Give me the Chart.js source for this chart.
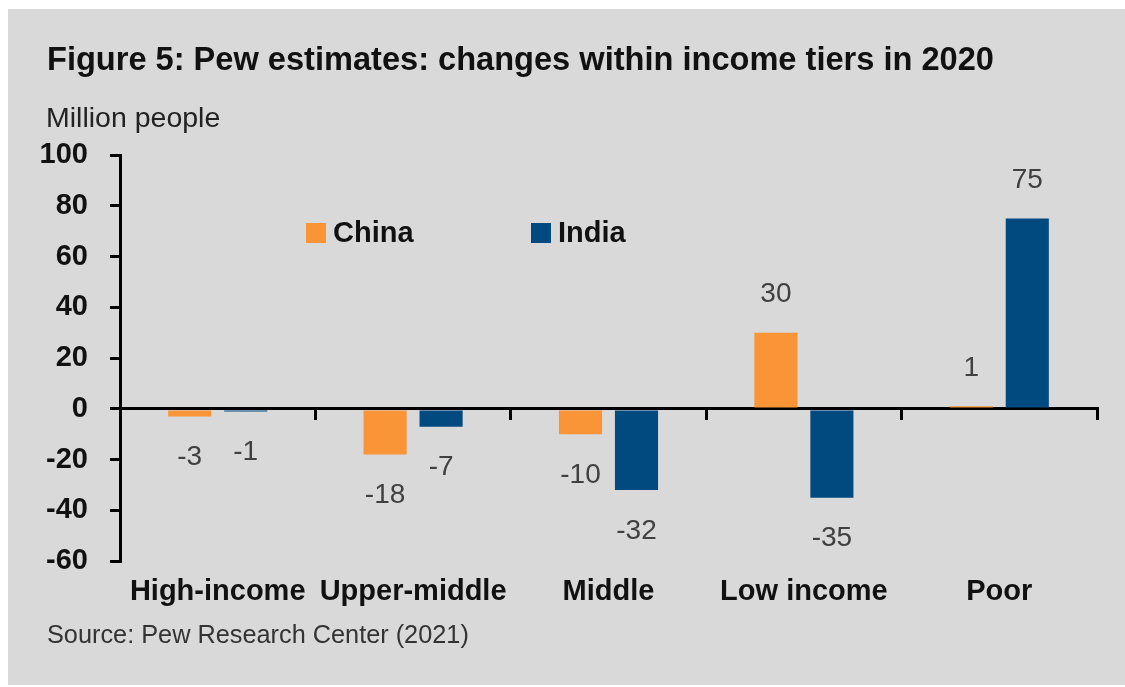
<!DOCTYPE html>
<html lang="en">
<head>
<meta charset="UTF-8" />
<title>Pew estimates: changes within income tiers in 2020</title>
<script src="https://cdn.jsdelivr.net/npm/chart.js"></script>
<style>
  body { margin: 0; background: #fff; }
  #wrap { width: 1125px; height: 687px; }
</style>
</head>
<body>
<div id="wrap"><canvas id="tiersChart"></canvas></div>
<script>
// data (million people)
const tiers = ['High-income', 'Upper-middle', 'Middle', 'Low income', 'Poor']
const chinaChange = [-3, -18, -10, 30, 1]
const indiaChange = [-1, -7, -32, -35, 75]
const yMin = -60
const yMax = 100
const yStep = 20

const FONT = '"Liberation Sans", Arial, sans-serif'
const ORANGE = '#F99437'
const BLUE = '#004A80'

// grey panel, title, unit and source line
const panel = {
  id: 'panel',
  beforeDraw(chart) {
    const ctx = chart.ctx
    ctx.save()
    ctx.fillStyle = '#ffffff'
    ctx.fillRect(0, 0, chart.width, chart.height)
    ctx.fillStyle = '#D9D9D9'
    ctx.fillRect(8, 9, chart.width - 8, chart.height - 11)
    ctx.textAlign = 'left'
    ctx.textBaseline = 'middle'
    ctx.fillStyle = '#111111'
    ctx.font = 'bold 32.6px ' + FONT
    ctx.fillText('Figure 5: Pew estimates: changes within income tiers in 2020', 47, 61)
    ctx.fillStyle = '#222222'
    ctx.font = '28.5px ' + FONT
    ctx.fillText('Million people', 46, 119)
    ctx.fillStyle = '#333333'
    ctx.font = '25.3px ' + FONT
    ctx.fillText('Source: Pew Research Center (2021)', 47, 636)
    ctx.restore()
  }
}

// legend sits inside the plot
const insideLegend = {
  id: 'insideLegend',
  afterDraw(chart) {
    const ctx = chart.ctx
    const y = chart.chartArea.top + 78
    const xs = [306, 531]
    ctx.save()
    ctx.font = 'bold 29px ' + FONT
    ctx.textAlign = 'left'
    ctx.textBaseline = 'middle'
    chart.data.datasets.forEach((ds, i) => {
      ctx.fillStyle = ds.backgroundColor
      ctx.fillRect(xs[i], y - 10, 20, 20)
      ctx.fillStyle = '#111111'
      ctx.fillText(ds.label, xs[i] + 27, y + 1)
    })
    ctx.restore()
  }
}

// value labels beyond the bar ends
const valueLabels = {
  id: 'valueLabels',
  afterDatasetsDraw(chart) {
    const ctx = chart.ctx
    ctx.save()
    ctx.font = '28px ' + FONT
    ctx.fillStyle = '#404040'
    ctx.textAlign = 'center'
    ctx.textBaseline = 'middle'
    chart.data.datasets.forEach((ds, i) => {
      chart.getDatasetMeta(i).data.forEach((bar, j) => {
        const v = ds.data[j]
        const y = v < 0 ? bar.y + 41 : bar.y - 38
        ctx.fillText(String(v), bar.x, y)
      })
    })
    ctx.restore()
  }
}

new Chart(document.getElementById('tiersChart'), {
  type: 'bar',
  data: {
    labels: tiers,
    datasets: [
      { label: 'China', data: chinaChange, backgroundColor: ORANGE },
      { label: 'India', data: indiaChange, backgroundColor: BLUE }
    ]
  },
  options: {
    responsive: true,
    maintainAspectRatio: false,
    animation: false,
    categoryPercentage: 0.573,
    barPercentage: 0.77,
    layout: { padding: { top: 155, right: 28, bottom: 65, left: 0 } },
    plugins: {
      legend: { display: false },
      title: { display: false },
      tooltip: { enabled: false }
    },
    scales: {
      x: {
        type: 'category',
        position: { y: 0 },
        offset: true,
        ticks: { display: false },
        grid: {
          offset: true,
          drawOnChartArea: false,
          drawTicks: true,
          tickLength: 10,
          color: '#000000',
          lineWidth: 3
        },
        border: { display: true, color: '#000000', width: 3 }
      },
      xLabels: {
        type: 'category',
        position: 'bottom',
        offset: true,
        grid: { display: false, drawTicks: false },
        border: { display: false },
        ticks: {
          padding: 13,
          color: '#111111',
          font: { family: FONT, size: 29, weight: 'bold' }
        }
      },
      y: {
        min: yMin,
        max: yMax,
        afterFit(scale) { scale.width = 120 },
        ticks: {
          stepSize: yStep,
          padding: 22,
          color: '#111111',
          font: { family: FONT, size: 29, weight: 'bold' }
        },
        grid: {
          drawOnChartArea: false,
          drawTicks: true,
          tickLength: 10,
          color: '#000000',
          lineWidth: 3
        },
        border: { display: true, color: '#000000', width: 3 }
      }
    }
  },
  plugins: [panel, insideLegend, valueLabels]
})
</script>
</body>
</html>
